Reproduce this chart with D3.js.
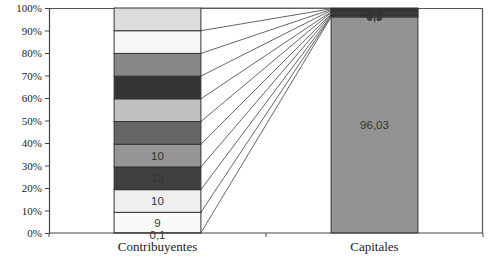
<!DOCTYPE html>
<html>
<head>
<meta charset="utf-8">
<script src="https://cdn.jsdelivr.net/npm/d3@7"></script>
<style>
  body { margin: 0; background: #fff; }
  svg { display: block; }
  .serif { font-family: "Liberation Serif", "Times New Roman", serif; }
  .sans { font-family: "Liberation Sans", Arial, sans-serif; }
</style>
</head>
<body>
<svg id="chart" width="494" height="258"></svg>
<script>
// categories and series (bottom to top of the stack)
const categories = ["Contribuyentes", "Capitales"];
const contribValues = [0.1, 9, 10, 10, 10, 10, 10, 10, 10, 10, 10];
const capitalValues = [96.03, 0.3, 0.2, 0.5, 0.4, 0.6, 0.3, 0.6, 0.4, 0.3, 0.37];
const contribLabels = ["0,1", "9", "10", "10", "10", "", "", "", "", "", ""];
const capitalLabels = ["96,03", "0,3", "0,2", "0,5", "0,4", "", "", "", "", "", ""];
const seriesColors = ["#939393", "#fafafa", "#efefef", "#404040", "#969696",
                      "#666666", "#c0c0c0", "#333333", "#878787", "#f6f6f6", "#dcdcdc"];
const yTicks = [0, 0.1, 0.2, 0.3, 0.4, 0.5, 0.6, 0.7, 0.8, 0.9, 1];

const margin = { left: 49, right: 11, top: 8, bottom: 25 };
const width = 494, height = 258;

const svg = d3.select("#chart");

const x = d3.scaleBand()
    .domain(categories)
    .range([margin.left, width - margin.right])
    .paddingInner(0.6)
    .paddingOuter(0.3);

const y = d3.scaleLinear()
    .domain([0, 1])
    .range([height - margin.bottom, margin.top]);

// build 100% stacks
function stackOf(values) {
    const total = d3.sum(values);
    let acc = 0;
    return values.map(v => {
        const y0 = acc / total;
        acc += v;
        return { y0, y1: acc / total };
    });
}
const stacks = [stackOf(contribValues), stackOf(capitalValues)];
const labelSets = [contribLabels, capitalLabels];

// plot area frame (top and right)
svg.append("path")
    .attr("d", `M${margin.left},${margin.top + 0.5}H${width - margin.right - 0.5}V${height - margin.bottom}`)
    .attr("fill", "none")
    .attr("stroke", "#555")
    .attr("stroke-width", 1.2);

// series lines between the two bars
const xa = x(categories[0]) + x.bandwidth();
const xb = x(categories[1]);
svg.append("g")
    .selectAll("line")
    .data(d3.range(seriesColors.length))
    .join("line")
    .attr("x1", xa)
    .attr("y1", i => y(stacks[0][i].y1))
    .attr("x2", xb)
    .attr("y2", i => y(stacks[1][i].y1))
    .attr("stroke", "#666")
    .attr("stroke-width", 1);

// stacked bars
categories.forEach((cat, ci) => {
    const g = svg.append("g");
    g.selectAll("rect")
        .data(stacks[ci])
        .join("rect")
        .attr("x", x(cat))
        .attr("y", d => y(d.y1))
        .attr("width", x.bandwidth())
        .attr("height", d => y(d.y0) - y(d.y1))
        .attr("fill", (d, i) => seriesColors[i])
        .attr("stroke", "#333")
        .attr("stroke-width", 1);

    g.selectAll("text")
        .data(stacks[ci])
        .join("text")
        .attr("class", "sans")
        .attr("x", x(cat) + x.bandwidth() / 2)
        .attr("y", (d, i) => (y(d.y0) + y(d.y1)) / 2 + (ci === 0 && i === 0 ? 6 : 4))
        .attr("text-anchor", "middle")
        .attr("font-size", 11.5)
        .attr("fill", "#333")
        .text((d, i) => labelSets[ci][i]);
});

// y axis
const yAxis = svg.append("g")
    .attr("transform", `translate(${margin.left},0)`)
    .call(d3.axisLeft(y).tickValues(yTicks).tickFormat(d3.format(".0%")).tickSize(4));
yAxis.attr("font-family", null);
yAxis.select(".domain").attr("stroke", "#444").attr("stroke-width", 1.2);
yAxis.selectAll(".tick line").attr("stroke", "#444");
yAxis.selectAll("text")
    .attr("class", "serif")
    .attr("font-size", 11)
    .attr("fill", "#222");

// x axis: ticks at category boundaries
const xAxis = svg.append("g")
    .attr("transform", `translate(0,${height - margin.bottom})`);
xAxis.append("line")
    .attr("x1", margin.left).attr("x2", width - margin.right)
    .attr("stroke", "#444").attr("stroke-width", 1.2);
const bounds = [margin.left, (x(categories[0]) + x.bandwidth() + x(categories[1])) / 2, width - margin.right];
xAxis.selectAll(".xt")
    .data(bounds)
    .join("line")
    .attr("x1", d => d).attr("x2", d => d)
    .attr("y1", 0).attr("y2", 4)
    .attr("stroke", "#444");
xAxis.selectAll("text")
    .data(categories)
    .join("text")
    .attr("class", "serif")
    .attr("x", d => x(d) + x.bandwidth() / 2)
    .attr("y", 18)
    .attr("text-anchor", "middle")
    .attr("font-size", 13)
    .attr("fill", "#222")
    .text(d => d);
</script>
</body>
</html>
